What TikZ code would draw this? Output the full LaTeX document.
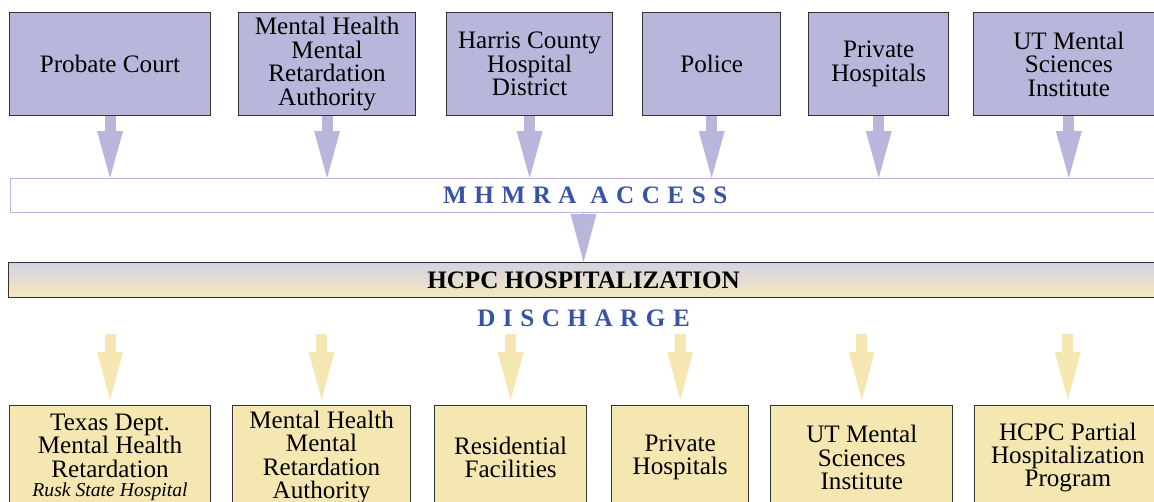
\documentclass[tikz,border=0pt]{standalone}
\usepackage{fontspec}
\setmainfont{Liberation Serif}
\usepackage{tikz}
\usetikzlibrary{arrows.meta, positioning}
\definecolor{mhPurple}{HTML}{B8B7DB}
\definecolor{mhYellow}{HTML}{F5E7B2}
\definecolor{mhBlue}{HTML}{3852A4}
\definecolor{mhEdge}{HTML}{333333}
\definecolor{mhBandTop}{HTML}{D4D1E5}
\definecolor{mhBandBot}{HTML}{F6E9BD}
\newcommand{\boxfont}{\fontsize{14.3}{13.3}\selectfont}
\newcommand{\tracked}[1]{{\addfontfeature{LetterSpace=30}#1}}

\begin{document}
\begin{tikzpicture}[
  x=0.2mm, y=-0.2mm, font=\boxfont,
  box/.style={draw=mhEdge, line width=0.6pt, minimum height=20.6mm,
              align=center, inner sep=2pt},
  inbox/.style={box, fill=mhPurple},
  outbox/.style={box, fill=mhYellow, minimum height=20.8mm},
  inar/.style={draw=mhPurple, line width=2.2mm,
               -{Triangle[length=9.4mm, width=5.2mm, line width=0pt]}},
  outar/.style={draw=mhYellow, line width=2.2mm, shorten >=1mm,
                -{Triangle[length=9.6mm, width=5.2mm, line width=0pt]}},
  tip/.style={draw=mhPurple, line width=0.1pt,
              -{Triangle[length=9.6mm, width=5.2mm, line width=0pt]}},
  label/.style={font=\boxfont\bfseries, text=mhBlue},
]
\useasboundingbox (0,0) rectangle (1154,501);

% sources
\node[inbox, minimum width=40.2mm, anchor=north west] (probate) at (9,12) {Probate Court};
\node[inbox, minimum width=35.4mm, right=5.4mm of probate] (mhmrIn)
  {Mental Health\\Mental\\Retardation\\Authority};
\node[inbox, minimum width=33.2mm, right=6mm of mhmrIn] (harris)
  {Harris County\\Hospital\\District};
\node[inbox, minimum width=27.6mm, right=5.8mm of harris] (police) {Police};
\node[inbox, minimum width=28mm, right=5.4mm of police] (privIn) {Private\\Hospitals};
\node[inbox, minimum width=38mm, right=4.8mm of privIn] (utIn)
  {UT Mental\\Sciences\\Institute};

% access band and hospitalization
\node[draw=mhPurple, line width=0.8pt, fill=white, minimum width=229.8mm,
      minimum height=6.8mm, anchor=north west, label] (access) at (10,178)
  {\tracked{MHMRA ACCESS}};
\node[draw=mhEdge, line width=0.6pt, top color=mhBandTop, bottom color=mhBandBot,
      minimum width=230mm, minimum height=7mm, anchor=north west,
      font=\boxfont\bfseries] (hcpc) at (8,262) {HCPC HOSPITALIZATION};
\node[label, minimum height=6.2mm, below=0.9mm of hcpc] (discharge)
  {\tracked{DISCHARGE}};

% destinations
\node[outbox, minimum width=40.2mm, anchor=north west] (tdmh) at (9,405)
  {Texas Dept.\\Mental Health\\Retardation\\[-2pt]
   {\fontsize{11.2}{12}\selectfont\itshape Rusk State Hospital}};
\node[outbox, minimum width=35.6mm, right=4.2mm of tdmh] (mhmrOut)
  {Mental Health\\Mental\\Retardation\\Authority};
\node[outbox, minimum width=30.4mm, right=4.6mm of mhmrOut] (resid)
  {Residential\\Facilities};
\node[outbox, minimum width=27.4mm, right=4.8mm of resid] (privOut) {Private\\Hospitals};
\node[outbox, minimum width=36.4mm, right=4.2mm of privOut] (utOut)
  {UT Mental\\Sciences\\Institute};
\node[outbox, minimum width=37.2mm, right=4.2mm of utOut] (partial)
  {HCPC Partial\\Hospitalization\\Program};

\foreach \src in {probate, mhmrIn, harris, police, privIn, utIn}
  \draw[inar] (\src.south) -- (\src.south |- access.north);
\draw[tip] (access.south -| hcpc.north) -- (hcpc.north);
\foreach \dst in {tdmh, mhmrOut, resid, privOut, utOut, partial}
  \draw[outar] (\dst.north |- discharge.south) -- (\dst.north);
\end{tikzpicture}
\end{document}
